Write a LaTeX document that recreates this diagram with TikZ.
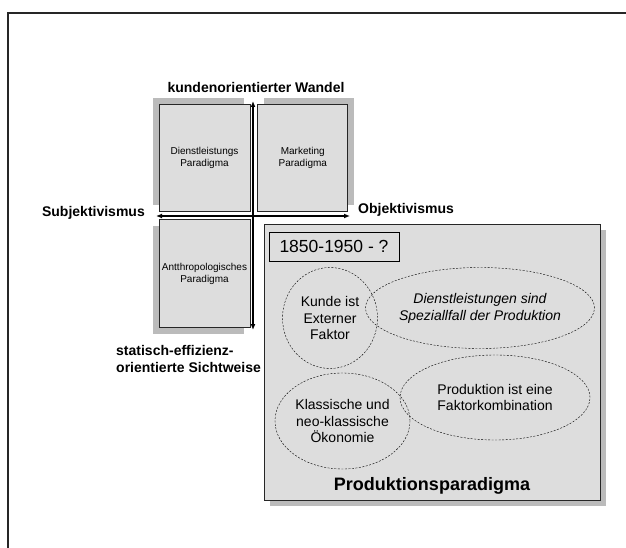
\documentclass[tikz,border=0pt]{standalone}
\usepackage{fontspec}
\setmainfont{Liberation Sans}
\usetikzlibrary{positioning, shapes.geometric, shadows, arrows.meta}
\definecolor{boxfill}{HTML}{DDDDDD}
\definecolor{shadowgray}{HTML}{BBBBBB}

\begin{document}
\begin{tikzpicture}[x=1pt, y=-1pt,
    quad/.style={draw=black!85, fill=boxfill, rectangle, line width=0.8pt, inner sep=0pt, align=center, font=\fontsize{10}{12}\selectfont},
    idea/.style={draw, dash pattern=on 2pt off 1.5pt, ellipse, inner sep=0pt, align=center, font=\fontsize{14}{16.8}\selectfont},
    axislabel/.style={inner sep=0pt, align=left, font=\bfseries\fontsize{14}{17}\selectfont},
    axis/.style={line width=1.6pt, {Latex[length=6pt,width=5pt]}-{Latex[length=6pt,width=5pt]}}]

    \useasboundingbox (0,0) rectangle (626,548);

    % Frame
    \draw[line width=1.2pt, black!85] (8,548) -- (8,13) -- (626,13);

    % Nodes
    \node [quad, minimum width=91pt, minimum height=107pt,
        general shadow={fill=shadowgray, shadow xshift=-6pt, shadow yshift=6pt}]
        at (204.5,157.5) (dienst) {Dienstleistungs\\Paradigma};
    \node [quad, minimum width=90pt, minimum height=107pt, right=7pt of dienst,
        general shadow={fill=shadowgray, shadow xshift=6pt, shadow yshift=6pt}]
        (marketing) {Marketing\\Paradigma};
    \node [quad, minimum width=91pt, minimum height=108pt, below=8pt of dienst,
        general shadow={fill=shadowgray, shadow xshift=-6pt, shadow yshift=-6pt}]
        (anthro) {Antthropologisches\\Paradigma};
    \node [quad, minimum width=336pt, minimum height=276pt,
        general shadow={fill=shadowgray, shadow xshift=6pt, shadow yshift=-6pt}]
        at (432,362) (produktion) {};

    \node [draw, rectangle, fill=boxfill, line width=0.8pt, minimum width=130pt, minimum height=29pt,
        font=\fontsize{17.5}{20}\selectfont] at (334,246.5) (jahre) {1850-1950 - ?};
    \node [idea, minimum width=95pt, minimum height=101pt] at (330,318) (kunde) {Kunde ist\\Externer\\Faktor};
    \node [idea, minimum width=206pt, minimum height=81pt, font=\itshape\fontsize{14}{16.8}\selectfont]
        at (480,308) (spezial) {Dienstleistungen sind\\Speziallfall der Produktion};
    \node [idea, minimum width=135pt, minimum height=96pt] at (342.5,421) (oekonomie) {Klassische und\\neo-klassische\\Ökonomie};
    \node [idea, minimum width=190pt, minimum height=85pt] at (495,397.5) (kombination) {Produktion ist eine\\Faktorkombination};
    \node [inner sep=0pt, font=\bfseries\fontsize{18}{21}\selectfont] at (432,486) (titel) {Produktionsparadigma};

    % Axis labels
    \node [axislabel] at (256,87) (wandel) {kundenorientierter Wandel};
    \node [axislabel, anchor=east] at (145,213) (subjekt) {Subjektivismus};
    \node [axislabel, anchor=west] at (358,210) (objekt) {Objektivismus};
    \node [axislabel, anchor=west] at (116,358.5) (statisch) {statisch-effizienz-\\orientierte Sichtweise};

    % Arrows
    \coordinate (axisN) at (253,101);
    \coordinate (axisS) at (253,330);
    \coordinate (axisW) at (156,216);
    \coordinate (axisE) at (350,216);
    \draw[axis] (axisN) -- (axisS);
    \draw[axis] (axisW) -- (axisE);

\end{tikzpicture}
\end{document}
